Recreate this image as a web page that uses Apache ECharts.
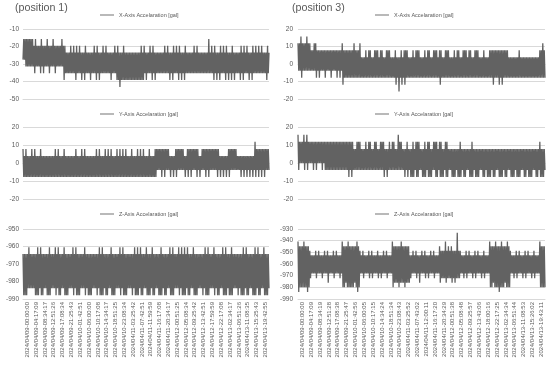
<!DOCTYPE html>
<html><head><meta charset="utf-8">
<script src="https://cdn.jsdelivr.net/npm/echarts@6/dist/echarts.min.js"></script>
<style>html,body{margin:0;padding:0;background:#fff}#c{width:550px;height:368px}</style>
</head><body><div id="c"></div>
<script>
const titles = ['(position 1)', '(position 3)'];
const seriesNames = ['X-Axis Accelaration [gal]', 'Y-Axis Accelaration [gal]', 'Z-Axis Accelaration [gal]'];
const timeLabelsP1 = ['2024/04/09-00:00:00','2024/04/09-04:17:09','2024/04/09-08:34:17','2024/04/09-12:51:26','2024/04/09-17:08:34','2024/04/09-21:25:43','2024/04/10-01:42:51','2024/04/10-06:00:00','2024/04/10-10:17:08','2024/04/10-14:34:17','2024/04/10-18:51:25','2024/04/10-23:08:34','2024/04/11-03:25:42','2024/04/11-07:42:51','2024/04/11-11:59:59','2024/04/11-16:17:08','2024/04/11-20:34:17','2024/04/12-00:51:25','2024/04/12-05:08:34','2024/04/12-09:25:42','2024/04/12-13:42:51','2024/04/12-17:59:59','2024/04/12-22:17:08','2024/04/13-02:34:17','2024/04/13-06:51:26','2024/04/13-11:08:35','2024/04/13-15:25:43','2024/04/13-19:42:55'];
const timeLabelsP3 = ['2024/04/09-00:00:00','2024/04/09-04:17:09','2024/04/09-08:34:19','2024/04/09-12:51:28','2024/04/09-17:08:38','2024/04/09-21:25:47','2024/04/10-01:42:56','2024/04/10-06:00:05','2024/04/10-10:17:15','2024/04/10-14:34:24','2024/04/10-18:51:34','2024/04/10-23:08:43','2024/04/11-03:25:52','2024/04/11-07:43:02','2024/04/11-12:00:11','2024/04/11-16:17:20','2024/04/11-20:34:29','2024/04/12-00:51:38','2024/04/12-05:08:48','2024/04/12-09:25:57','2024/04/12-13:43:06','2024/04/12-18:00:16','2024/04/12-22:17:25','2024/04/13-02:34:34','2024/04/13-06:51:44','2024/04/13-11:08:53','2024/04/13-15:26:02','2024/04/13-19:43:11'];
const yTicks = { p1x: [-50, -10], p1y: [-20, 20], p1z: [-990, -950], p3x: [-20, 20], p3y: [-20, 20], p3z: [-990, -930] };

const p1x = [
-27.5,-15.7,-27.5,-15.7,-31.4,-15.7,-31.4,-15.7,-31.4,-15.7,-31.4,-15.7,-31.4,-15.7,-31.4,-19.6,-35.3,-15.7,-31.4,-19.6,-31.4,-19.6,-31.4,-19.6,
-35.3,-15.7,-31.4,-19.6,-35.3,-19.6,-31.4,-19.6,-31.4,-15.7,-31.4,-19.6,-35.3,-19.6,-31.4,-19.6,-31.4,-15.7,-31.4,-19.6,-35.3,-19.6,-31.4,-19.6,
-31.4,-19.6,-31.4,-19.6,-31.4,-15.7,-31.4,-19.6,-39.2,-19.6,-35.3,-23.5,-35.3,-23.5,-35.3,-23.5,-35.3,-19.6,-35.3,-23.5,-35.3,-19.6,-35.3,-23.5,
-39.2,-19.6,-35.3,-23.5,-35.3,-19.6,-35.3,-23.5,-39.2,-23.5,-35.3,-23.5,-39.2,-19.6,-35.3,-23.5,-35.3,-23.5,-35.3,-23.5,-39.2,-23.5,-35.3,-23.5,
-35.3,-19.6,-35.3,-23.5,-39.2,-19.6,-35.3,-23.5,-39.2,-23.5,-35.3,-23.5,-35.3,-19.6,-35.3,-23.5,-35.3,-19.6,-35.3,-23.5,-35.3,-23.5,-35.3,-23.5,
-39.2,-23.5,-35.3,-23.5,-35.3,-19.6,-35.3,-23.5,-39.2,-19.6,-39.2,-23.5,-43.1,-23.5,-39.2,-23.5,-39.2,-19.6,-39.2,-23.5,-39.2,-23.5,-39.2,-23.5,
-39.2,-23.5,-39.2,-23.5,-39.2,-23.5,-39.2,-23.5,-39.2,-23.5,-39.2,-23.5,-39.2,-23.5,-39.2,-23.5,-39.2,-19.6,-39.2,-23.5,-39.2,-19.6,-35.3,-23.5,
-39.2,-23.5,-35.3,-23.5,-35.3,-19.6,-35.3,-23.5,-39.2,-19.6,-35.3,-23.5,-39.2,-23.5,-35.3,-23.5,-35.3,-23.5,-35.3,-23.5,-35.3,-23.5,-35.3,-23.5,
-35.3,-19.6,-35.3,-23.5,-35.3,-19.6,-35.3,-23.5,-39.2,-23.5,-35.3,-23.5,-39.2,-19.6,-35.3,-23.5,-35.3,-19.6,-35.3,-23.5,-39.2,-19.6,-35.3,-23.5,
-39.2,-23.5,-35.3,-23.5,-39.2,-19.6,-35.3,-23.5,-35.3,-23.5,-35.3,-23.5,-35.3,-23.5,-35.3,-23.5,-35.3,-19.6,-35.3,-23.5,-35.3,-19.6,-35.3,-23.5,
-35.3,-23.5,-35.3,-23.5,-35.3,-23.5,-35.3,-23.5,-35.3,-23.5,-35.3,-23.5,-35.3,-15.7,-35.3,-23.5,-35.3,-19.6,-35.3,-23.5,-39.2,-19.6,-35.3,-23.5,
-39.2,-23.5,-35.3,-23.5,-39.2,-19.6,-35.3,-23.5,-35.3,-19.6,-35.3,-23.5,-39.2,-19.6,-35.3,-23.5,-39.2,-23.5,-35.3,-23.5,-39.2,-19.6,-35.3,-23.5,
-39.2,-23.5,-35.3,-23.5,-35.3,-23.5,-35.3,-23.5,-39.2,-19.6,-35.3,-23.5,-39.2,-19.6,-35.3,-23.5,-35.3,-19.6,-35.3,-23.5,-39.2,-23.5,-35.3,-23.5,
-39.2,-19.6,-35.3,-23.5,-35.3,-19.6,-35.3,-23.5,-35.3,-19.6,-35.3,-23.5,-35.3,-19.6,-35.3,-23.5,-35.3,-23.5,-35.3,-23.5,-39.2,-19.6,-35.3,-23.5];

const p1y = [
7.8,-7.8,3.9,-7.8,7.8,-7.8,3.9,-7.8,3.9,-7.8,3.9,-7.8,7.8,-7.8,3.9,-7.8,7.8,-7.8,3.9,-7.8,3.9,-7.8,3.9,-7.8,
7.8,-7.8,3.9,-7.8,3.9,-7.8,3.9,-7.8,3.9,-7.8,3.9,-7.8,3.9,-7.8,3.9,-7.8,3.9,-7.8,3.9,-7.8,7.8,-7.8,3.9,-7.8,
7.8,-7.8,3.9,-7.8,3.9,-7.8,3.9,-7.8,7.8,-7.8,3.9,-7.8,3.9,-7.8,3.9,-7.8,3.9,-7.8,3.9,-7.8,3.9,-7.8,3.9,-7.8,
7.8,-7.8,3.9,-7.8,3.9,-7.8,3.9,-7.8,7.8,-7.8,3.9,-7.8,7.8,-7.8,3.9,-7.8,3.9,-7.8,3.9,-7.8,3.9,-7.8,3.9,-7.8,
3.9,-7.8,3.9,-7.8,7.8,-7.8,3.9,-7.8,7.8,-7.8,3.9,-7.8,3.9,-7.8,3.9,-7.8,7.8,-7.8,3.9,-7.8,7.8,-7.8,3.9,-7.8,
7.8,-7.8,3.9,-7.8,3.9,-7.8,3.9,-7.8,7.8,-7.8,3.9,-7.8,7.8,-7.8,3.9,-7.8,7.8,-7.8,3.9,-7.8,7.8,-7.8,3.9,-7.8,
3.9,-7.8,3.9,-7.8,7.8,-7.8,3.9,-7.8,3.9,-7.8,3.9,-7.8,7.8,-7.8,3.9,-7.8,7.8,-7.8,3.9,-7.8,7.8,-7.8,3.9,-7.8,
3.9,-7.8,3.9,-7.8,7.8,-7.8,3.9,-7.8,3.9,-7.8,3.9,-7.8,7.8,-7.8,7.8,-3.9,7.8,-3.9,7.8,-3.9,7.8,-7.8,7.8,-3.9,
7.8,-7.8,7.8,-3.9,7.8,-3.9,7.8,-3.9,3.9,-7.8,3.9,-3.9,3.9,-7.8,3.9,-3.9,7.8,-7.8,7.8,-3.9,7.8,-3.9,7.8,-3.9,
7.8,-3.9,7.8,-3.9,3.9,-7.8,3.9,-3.9,7.8,-7.8,7.8,-3.9,7.8,-7.8,7.8,-3.9,7.8,-3.9,7.8,-3.9,7.8,-7.8,7.8,-3.9,
3.9,-7.8,3.9,-3.9,7.8,-3.9,7.8,-3.9,7.8,-7.8,7.8,-3.9,7.8,-7.8,7.8,-3.9,7.8,-3.9,7.8,-3.9,7.8,-3.9,7.8,-3.9,
7.8,-7.8,7.8,-3.9,3.9,-7.8,3.9,-3.9,3.9,-7.8,3.9,-3.9,3.9,-7.8,3.9,-3.9,7.8,-7.8,7.8,-3.9,7.8,-3.9,7.8,-3.9,
7.8,-3.9,7.8,-3.9,3.9,-3.9,3.9,-3.9,3.9,-7.8,3.9,-3.9,3.9,-7.8,3.9,-3.9,3.9,-7.8,3.9,-3.9,3.9,-7.8,3.9,-3.9,
3.9,-7.8,3.9,-3.9,11.8,-7.8,7.8,-3.9,7.8,-7.8,7.8,-3.9,7.8,-7.8,7.8,-3.9,7.8,-7.8,7.8,-3.9,7.8,-3.9,7.8,-3.9];

const p1z = [
-964.3,-987.8,-964.3,-987.8,-964.3,-987.8,-964.3,-983.9,-960.4,-983.9,-964.3,-983.9,-964.3,-983.9,-964.3,-983.9,-964.3,-987.8,-964.3,-987.8,-960.4,-987.8,-964.3,-983.9,
-960.4,-987.8,-964.3,-987.8,-964.3,-983.9,-964.3,-983.9,-964.3,-987.8,-964.3,-987.8,-960.4,-987.8,-964.3,-983.9,-964.3,-983.9,-964.3,-983.9,-960.4,-987.8,-964.3,-983.9,
-960.4,-987.8,-964.3,-987.8,-964.3,-983.9,-964.3,-983.9,-960.4,-987.8,-964.3,-987.8,-964.3,-987.8,-964.3,-983.9,-964.3,-983.9,-964.3,-983.9,-960.4,-987.8,-964.3,-983.9,
-960.4,-987.8,-964.3,-987.8,-964.3,-987.8,-964.3,-983.9,-964.3,-983.9,-964.3,-983.9,-960.4,-987.8,-964.3,-983.9,-964.3,-987.8,-964.3,-987.8,-964.3,-987.8,-964.3,-983.9,
-964.3,-983.9,-964.3,-983.9,-964.3,-987.8,-964.3,-983.9,-960.4,-987.8,-964.3,-987.8,-960.4,-987.8,-964.3,-983.9,-964.3,-987.8,-964.3,-987.8,-964.3,-983.9,-964.3,-983.9,
-960.4,-987.8,-964.3,-987.8,-964.3,-987.8,-964.3,-983.9,-964.3,-983.9,-964.3,-983.9,-960.4,-987.8,-964.3,-983.9,-960.4,-987.8,-964.3,-987.8,-964.3,-987.8,-964.3,-983.9,
-964.3,-983.9,-964.3,-983.9,-964.3,-987.8,-964.3,-983.9,-960.4,-987.8,-964.3,-987.8,-960.4,-987.8,-964.3,-983.9,-960.4,-987.8,-964.3,-987.8,-964.3,-983.9,-964.3,-983.9,
-960.4,-987.8,-964.3,-987.8,-964.3,-987.8,-964.3,-983.9,-960.4,-987.8,-964.3,-987.8,-964.3,-983.9,-964.3,-983.9,-964.3,-987.8,-964.3,-987.8,-960.4,-987.8,-964.3,-983.9,
-964.3,-987.8,-964.3,-987.8,-964.3,-983.9,-964.3,-983.9,-960.4,-987.8,-964.3,-987.8,-960.4,-987.8,-964.3,-983.9,-964.3,-983.9,-964.3,-983.9,-960.4,-987.8,-964.3,-983.9,
-960.4,-987.8,-964.3,-987.8,-960.4,-987.8,-964.3,-983.9,-960.4,-987.8,-964.3,-987.8,-964.3,-983.9,-964.3,-983.9,-960.4,-987.8,-964.3,-987.8,-964.3,-987.8,-964.3,-983.9,
-964.3,-983.9,-964.3,-983.9,-964.3,-987.8,-964.3,-983.9,-960.4,-987.8,-964.3,-987.8,-960.4,-987.8,-964.3,-983.9,-964.3,-983.9,-964.3,-983.9,-960.4,-987.8,-964.3,-983.9,
-964.3,-987.8,-964.3,-987.8,-964.3,-983.9,-964.3,-983.9,-960.4,-987.8,-964.3,-987.8,-960.4,-987.8,-964.3,-983.9,-964.3,-987.8,-964.3,-987.8,-960.4,-987.8,-964.3,-983.9,
-964.3,-983.9,-964.3,-983.9,-964.3,-987.8,-964.3,-983.9,-964.3,-987.8,-964.3,-987.8,-960.4,-987.8,-964.3,-983.9,-960.4,-987.8,-964.3,-987.8,-964.3,-983.9,-964.3,-983.9,
-964.3,-987.8,-964.3,-987.8,-960.4,-987.8,-964.3,-983.9,-960.4,-987.8,-964.3,-987.8,-964.3,-983.9,-964.3,-983.9,-960.4,-987.8,-964.3,-987.8,-964.3,-987.8,-964.3,-983.9];

const p3x = [
11.8,-3.9,11.8,-3.9,15.7,-7.8,11.8,-3.9,11.8,-3.9,11.8,-3.9,15.7,-3.9,11.8,-3.9,11.8,-3.9,7.8,-3.9,7.8,-3.9,11.8,-3.9,
11.8,-7.8,7.8,-3.9,7.8,-7.8,7.8,-3.9,7.8,-3.9,7.8,-3.9,7.8,-7.8,7.8,-3.9,7.8,-3.9,7.8,-3.9,7.8,-7.8,7.8,-3.9,
7.8,-3.9,7.8,-3.9,7.8,-7.8,7.8,-3.9,7.8,-7.8,7.8,-3.9,11.8,-11.8,7.8,-7.8,7.8,-7.8,7.8,-7.8,7.8,-7.8,7.8,-7.8,
7.8,-7.8,7.8,-7.8,11.8,-7.8,7.8,-7.8,7.8,-7.8,7.8,-7.8,11.8,-7.8,3.9,-7.8,3.9,-7.8,3.9,-7.8,7.8,-7.8,3.9,-7.8,
7.8,-7.8,7.8,-7.8,3.9,-7.8,3.9,-7.8,7.8,-7.8,7.8,-7.8,7.8,-7.8,3.9,-7.8,7.8,-7.8,7.8,-7.8,3.9,-7.8,3.9,-7.8,
7.8,-7.8,7.8,-7.8,7.8,-7.8,3.9,-7.8,3.9,-7.8,3.9,-7.8,7.8,-11.8,3.9,-7.8,3.9,-15.7,3.9,-7.8,7.8,-11.8,3.9,-7.8,
7.8,-11.8,7.8,-7.8,7.8,-7.8,3.9,-7.8,3.9,-7.8,3.9,-7.8,7.8,-7.8,3.9,-7.8,7.8,-7.8,7.8,-7.8,7.8,-7.8,3.9,-7.8,
3.9,-7.8,3.9,-7.8,7.8,-7.8,3.9,-7.8,7.8,-7.8,7.8,-7.8,3.9,-7.8,3.9,-7.8,7.8,-7.8,7.8,-7.8,7.8,-7.8,3.9,-7.8,
7.8,-11.8,7.8,-7.8,3.9,-7.8,3.9,-7.8,7.8,-7.8,7.8,-7.8,7.8,-7.8,3.9,-7.8,3.9,-7.8,3.9,-7.8,7.8,-7.8,3.9,-7.8,
7.8,-7.8,7.8,-7.8,3.9,-7.8,3.9,-7.8,7.8,-7.8,7.8,-7.8,7.8,-7.8,3.9,-7.8,7.8,-7.8,7.8,-7.8,3.9,-7.8,3.9,-7.8,
7.8,-7.8,7.8,-7.8,7.8,-7.8,3.9,-7.8,3.9,-7.8,3.9,-7.8,7.8,-7.8,3.9,-7.8,3.9,-7.8,3.9,-7.8,7.8,-7.8,7.8,-7.8,
7.8,-11.8,7.8,-7.8,7.8,-7.8,7.8,-7.8,7.8,-11.8,7.8,-7.8,7.8,-11.8,7.8,-7.8,7.8,-7.8,7.8,-7.8,7.8,-7.8,3.9,-7.8,
3.9,-7.8,3.9,-7.8,3.9,-7.8,3.9,-7.8,3.9,-7.8,3.9,-7.8,7.8,-7.8,3.9,-7.8,3.9,-7.8,3.9,-7.8,3.9,-7.8,3.9,-7.8,
3.9,-7.8,3.9,-7.8,3.9,-7.8,3.9,-7.8,3.9,-7.8,3.9,-7.8,3.9,-7.8,3.9,-7.8,7.8,-7.8,7.8,-7.8,11.8,-7.8,7.8,-7.8];

const p3y = [
15.7,-3.9,11.8,0,11.8,0,11.8,0,15.7,-3.9,11.8,0,15.7,-3.9,11.8,0,11.8,0,11.8,0,11.8,-3.9,11.8,0,
11.8,-3.9,11.8,0,11.8,0,11.8,0,11.8,-3.9,11.8,0,11.8,-3.9,11.8,-3.9,11.8,-3.9,11.8,-3.9,11.8,-3.9,11.8,-3.9,
11.8,-3.9,11.8,-3.9,11.8,-3.9,11.8,-3.9,11.8,-3.9,11.8,-3.9,11.8,-3.9,11.8,-3.9,11.8,-3.9,11.8,-3.9,11.8,-7.8,11.8,-3.9,
11.8,-7.8,11.8,-3.9,7.8,-3.9,7.8,-3.9,11.8,-3.9,11.8,-3.9,11.8,-3.9,7.8,-3.9,7.8,-3.9,7.8,-3.9,11.8,-3.9,7.8,-3.9,
11.8,-3.9,11.8,-3.9,7.8,-3.9,7.8,-3.9,11.8,-3.9,11.8,-3.9,7.8,-3.9,7.8,-3.9,11.8,-3.9,11.8,-3.9,11.8,-7.8,7.8,-3.9,
7.8,-7.8,7.8,-3.9,11.8,-3.9,7.8,-3.9,11.8,-3.9,11.8,-3.9,7.8,-3.9,7.8,-3.9,15.7,-3.9,11.8,-3.9,11.8,-3.9,7.8,-3.9,
7.8,-7.8,7.8,-3.9,11.8,-7.8,7.8,-3.9,7.8,-7.8,7.8,-7.8,11.8,-7.8,7.8,-3.9,11.8,-7.8,11.8,-7.8,11.8,-3.9,7.8,-3.9,
7.8,-7.8,7.8,-7.8,11.8,-7.8,7.8,-3.9,11.8,-7.8,11.8,-7.8,7.8,-7.8,7.8,-3.9,11.8,-3.9,11.8,-7.8,11.8,-7.8,7.8,-3.9,
11.8,-7.8,11.8,-7.8,7.8,-7.8,7.8,-3.9,11.8,-7.8,11.8,-7.8,7.8,-3.9,7.8,-3.9,7.8,-7.8,7.8,-7.8,7.8,-7.8,7.8,-3.9,
7.8,-7.8,7.8,-7.8,11.8,-7.8,7.8,-3.9,7.8,-7.8,7.8,-7.8,7.8,-3.9,7.8,-3.9,7.8,-7.8,7.8,-7.8,11.8,-7.8,7.8,-3.9,
7.8,-7.8,7.8,-7.8,7.8,-7.8,7.8,-3.9,7.8,-3.9,7.8,-7.8,7.8,-7.8,7.8,-3.9,7.8,-7.8,7.8,-7.8,7.8,-7.8,7.8,-3.9,
7.8,-7.8,7.8,-7.8,7.8,-3.9,7.8,-3.9,7.8,-7.8,7.8,-7.8,7.8,-7.8,7.8,-3.9,7.8,-7.8,7.8,-7.8,7.8,-3.9,7.8,-3.9,
7.8,-7.8,7.8,-7.8,7.8,-7.8,7.8,-3.9,7.8,-7.8,7.8,-7.8,7.8,-7.8,7.8,-3.9,7.8,-3.9,7.8,-7.8,7.8,-7.8,7.8,-3.9,
7.8,-7.8,7.8,-7.8,7.8,-7.8,7.8,-3.9,7.8,-3.9,7.8,-7.8,7.8,-7.8,7.8,-3.9,11.8,-7.8,7.8,-7.8,7.8,-7.8,7.8,-3.9];

const p3z = [
-940.8,-983.9,-944.7,-980.0,-944.7,-980.0,-944.7,-980.0,-940.8,-980.0,-944.7,-980.0,-944.7,-983.9,-944.7,-980.0,-948.7,-972.2,-952.6,-968.2,-952.6,-968.2,-952.6,-968.2,
-948.7,-972.2,-952.6,-968.2,-948.7,-968.2,-952.6,-968.2,-952.6,-972.2,-952.6,-968.2,-948.7,-968.2,-952.6,-968.2,-948.7,-976.1,-952.6,-968.2,-952.6,-968.2,-952.6,-968.2,
-948.7,-972.2,-952.6,-968.2,-948.7,-968.2,-952.6,-968.2,-952.6,-972.2,-952.6,-968.2,-940.8,-980.0,-944.7,-980.0,-944.7,-976.1,-944.7,-980.0,-940.8,-980.0,-944.7,-980.0,
-944.7,-980.0,-944.7,-980.0,-944.7,-976.1,-944.7,-980.0,-940.8,-983.9,-944.7,-980.0,-948.7,-968.2,-952.6,-968.2,-948.7,-972.2,-952.6,-968.2,-952.6,-968.2,-952.6,-968.2,
-948.7,-972.2,-952.6,-968.2,-948.7,-972.2,-952.6,-968.2,-952.6,-968.2,-952.6,-968.2,-948.7,-972.2,-952.6,-968.2,-952.6,-972.2,-952.6,-968.2,-948.7,-968.2,-952.6,-968.2,
-948.7,-972.2,-952.6,-968.2,-952.6,-968.2,-952.6,-968.2,-940.8,-980.0,-944.7,-976.1,-944.7,-976.1,-944.7,-976.1,-944.7,-980.0,-944.7,-976.1,-940.8,-976.1,-944.7,-976.1,
-944.7,-980.0,-944.7,-976.1,-944.7,-976.1,-944.7,-976.1,-952.6,-972.2,-952.6,-968.2,-948.7,-968.2,-952.6,-968.2,-948.7,-972.2,-952.6,-968.2,-952.6,-976.1,-952.6,-968.2,
-948.7,-968.2,-952.6,-968.2,-948.7,-972.2,-952.6,-968.2,-952.6,-972.2,-952.6,-968.2,-948.7,-968.2,-952.6,-968.2,-948.7,-972.2,-952.6,-968.2,-952.6,-968.2,-952.6,-968.2,
-944.7,-976.1,-948.7,-972.2,-948.7,-972.2,-948.7,-972.2,-940.8,-976.1,-948.7,-972.2,-944.7,-972.2,-948.7,-972.2,-944.7,-976.1,-948.7,-972.2,-948.7,-976.1,-948.7,-972.2,
-933.3,-972.2,-948.7,-972.2,-948.7,-968.2,-952.6,-968.2,-952.6,-972.2,-952.6,-968.2,-948.7,-972.2,-952.6,-968.2,-948.7,-968.2,-952.6,-968.2,-952.6,-972.2,-952.6,-968.2,
-948.7,-972.2,-952.6,-968.2,-948.7,-968.2,-952.6,-968.2,-952.6,-972.2,-952.6,-968.2,-948.7,-972.2,-952.6,-968.2,-952.6,-968.2,-952.6,-968.2,-940.8,-980.0,-944.7,-980.0,
-944.7,-976.1,-944.7,-980.0,-940.8,-980.0,-944.7,-980.0,-944.7,-983.9,-944.7,-980.0,-940.8,-980.0,-944.7,-980.0,-944.7,-976.1,-944.7,-980.0,-940.8,-980.0,-944.7,-980.0,
-948.7,-968.2,-952.6,-968.2,-952.6,-972.2,-952.6,-968.2,-948.7,-972.2,-952.6,-968.2,-948.7,-968.2,-952.6,-968.2,-952.6,-972.2,-952.6,-968.2,-948.7,-972.2,-952.6,-968.2,
-948.7,-968.2,-952.6,-968.2,-952.6,-972.2,-952.6,-968.2,-948.7,-972.2,-952.6,-968.2,-952.6,-968.2,-952.6,-968.2,-940.8,-980.0,-944.7,-980.0,-944.7,-980.0,-944.7,-980.0];

const FONT = 'Liberation Sans';
const TXT = '#595959';
const GRIDC = '#d9d9d9';
const LINEC = '#626262';
const N = p1x.length;
const STEP = 12, OFF = 6;
const catKeys = [];
for (let i = 0; i < N; i++) catKeys.push(String(i));

const panels = [
  { data: p1x, name: seriesNames[0], y: yTicks.p1x, col: 0, row: 0, labels: timeLabelsP1 },
  { data: p1y, name: seriesNames[1], y: yTicks.p1y, col: 0, row: 1, labels: timeLabelsP1 },
  { data: p1z, name: seriesNames[2], y: yTicks.p1z, col: 0, row: 2, labels: timeLabelsP1 },
  { data: p3x, name: seriesNames[0], y: yTicks.p3x, col: 1, row: 0, labels: timeLabelsP3 },
  { data: p3y, name: seriesNames[1], y: yTicks.p3y, col: 1, row: 1, labels: timeLabelsP3 },
  { data: p3z, name: seriesNames[2], y: yTicks.p3z, col: 1, row: 2, labels: timeLabelsP3 }
];
const colLeft = [23, 298], colWidth = [246, 247];
const rowTop = [29, 127, 229], rowHeight = [70, 72, 70];
const legendTop = [12, 111, 211];
const legendLeft = [100, 375];

const grid = [], xAxis = [], yAxis = [], series = [], legend = [];
panels.forEach((p, i) => {
  grid.push({ left: colLeft[p.col], width: colWidth[p.col], top: rowTop[p.row], height: rowHeight[p.row], containLabel: false });
  xAxis.push({
    type: 'category', gridIndex: i, data: catKeys, boundaryGap: false,
    axisLine: { show: true, lineStyle: { color: GRIDC, width: 1 } },
    axisTick: { show: false },
    axisLabel: {
      show: p.row === 2, rotate: 90, fontSize: 6, color: TXT, fontFamily: FONT, margin: 3,
      interval: (idx) => idx % STEP === OFF,
      formatter: (v, idx) => p.labels[(idx - OFF) / STEP] || ''
    },
    splitLine: { show: false }
  });
  yAxis.push({
    type: 'value', gridIndex: i, min: p.y[0], max: p.y[1], interval: 10,
    axisLine: { show: false }, axisTick: { show: false },
    axisLabel: { fontSize: 6.5, color: TXT, fontFamily: FONT, margin: p.col === 0 ? 4 : 5 },
    splitLine: { lineStyle: { color: GRIDC, width: 1 } }
  });
  series.push({
    type: 'line', name: p.name, xAxisIndex: i, yAxisIndex: i, data: p.data,
    symbol: 'none', showSymbol: false, sampling: null,
    lineStyle: { color: LINEC, width: 1.3 }, itemStyle: { color: LINEC },
    animation: false, silent: true
  });
  legend.push({
    data: [{ name: p.name, icon: 'rect' }], left: legendLeft[p.col], top: legendTop[p.row], padding: 0,
    itemWidth: 14, itemHeight: 1.2, itemGap: 4,
    itemStyle: { color: '#8a8a8a' },
    textStyle: { fontSize: 5.5, color: TXT, fontFamily: FONT },
    selectedMode: false
  });
});

const chart = echarts.init(document.getElementById('c'), null, { renderer: 'canvas' });
chart.setOption({
  backgroundColor: '#ffffff',
  animation: false,
  title: [
    { text: titles[0], left: 15, top: 3, padding: 0, textStyle: { fontSize: 10.7, fontWeight: 'normal', color: TXT, fontFamily: FONT } },
    { text: titles[1], left: 292, top: 3, padding: 0, textStyle: { fontSize: 10.7, fontWeight: 'normal', color: TXT, fontFamily: FONT } }
  ],
  legend, grid, xAxis, yAxis, series
});
</script></body></html>
